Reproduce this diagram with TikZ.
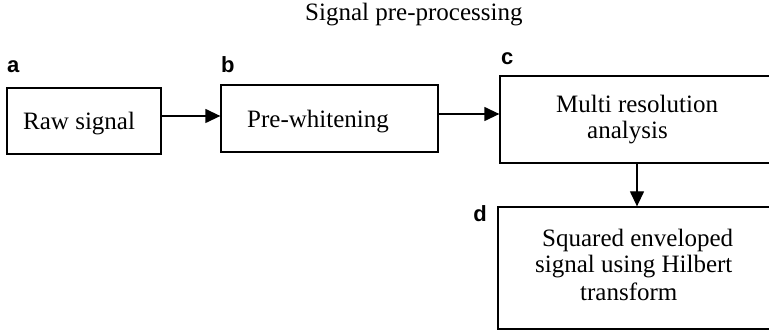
\documentclass[tikz,border=0pt]{standalone}
\usepackage{fontspec}
\setmainfont{Liberation Serif}
\newfontfamily\lblfont{Liberation Sans}
\usetikzlibrary{arrows.meta}
\begin{document}
\begin{tikzpicture}[x=1pt,y=-1pt,
  box/.style={draw, line width=1.3pt, inner sep=0pt, rectangle},
  txt/.style={anchor=base west, inner sep=0pt, font=\fontsize{25}{30}\selectfont},
  lbl/.style={inner sep=0pt, font=\lblfont\bfseries\fontsize{22}{26}\selectfont},
  arr/.style={line width=1.3pt, -{Triangle[length=15pt,width=14pt]}}]
\useasboundingbox (0,0) rectangle (769,331);
% boxes
\node[box, minimum width=154pt, minimum height=66pt] (a) at (84,121) {};
\node[box, minimum width=217pt, minimum height=67pt] (b) at (329.5,118.5) {};
\node[box, minimum width=271pt, minimum height=87pt] (c) at (635.5,119.5) {};
\node[box, minimum width=273pt, minimum height=122pt] (d) at (634.5,268) {};
% title
\node[txt] (title) at (305,21) {Signal pre-processing};
% texts
\node[txt] (ta) at (23,130) {Raw signal};
\node[txt] (tb) at (247,128) {Pre-whitening};
\node[txt] (tc1) at (556,113) {Multi resolution};
\node[txt] (tc2) at (587,139) {analysis};
\node[txt] (td1) at (542,247) {Squared enveloped};
\node[txt] (td2) at (535,273) {signal using Hilbert};
\node[txt] (td3) at (580,301) {transform};
% labels
\node[lbl, anchor=base west] (la) at (7,73) {a};
\node[lbl, anchor=base west] (lb) at (221,73) {b};
\node[lbl, anchor=base west] (lc) at (501,65) {c};
\node[lbl, anchor=base east] (ld) at (487,222) {d};
% connectors
\coordinate (yab) at (0,116);
\coordinate (ybc) at (0,114);
\coordinate (xcd) at (637,0);
\draw[arr] (a.east |- yab) -- (b.west |- yab);
\draw[arr] (b.east |- ybc) -- (c.west |- ybc);
\draw[arr] (c.south -| xcd) -- (d.north -| xcd);
\end{tikzpicture}
\end{document}
